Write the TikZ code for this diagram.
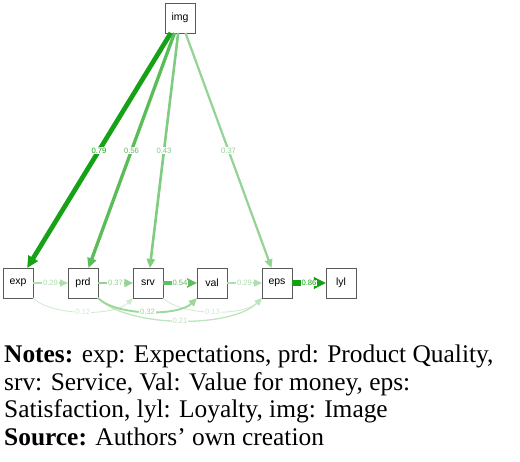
\documentclass[tikz,border=0pt]{standalone}
\usepackage{fontspec}
\setmainfont{Liberation Serif}
\setsansfont{Liberation Sans}
\usetikzlibrary{arrows.meta}
\definecolor{semgreen}{RGB}{20,160,20}
\tikzset{
  edge/.style 2 args={color=semgreen!#1, line width=#2pt,
    -{Triangle[length=6pt 1.2, width=5pt 1.2]}},
  elab/.style={draw=none, minimum size=0pt, fill=white, inner sep=0.6pt,
    font=\sffamily\fontsize{7.7}{7.7}\selectfont}
}
\begin{document}
\begin{tikzpicture}[
		every node/.style={rectangle, draw=black!65, fill=white, minimum size=29.5pt,
		  inner sep=0pt, font=\sffamily\fontsize{10.5}{10.5}\selectfont}
	]
  \useasboundingbox (0pt, 0pt) rectangle (520pt, -462pt);
  \node (img) at (180pt, -18pt) {img};
  \node (exp) at (18pt, -283pt) {exp};
  \node (prd) at (83pt, -283pt) {prd};
  \node (srv) at (148pt, -283pt) {srv};
  \node (val) at (212pt, -283pt) {val};
  \node (eps) at (277pt, -283pt) {eps};
  \node (lyl) at (341pt, -283pt) {lyl};
  % image paths
  \draw[edge={99}{4.7}] (img) -- node[elab]{0.79} (exp);
  \draw[edge={70}{3.3}] (img) -- node[elab]{0.56} (prd);
  \draw[edge={54}{2.6}] (img) -- node[elab]{0.43} (srv);
  \draw[edge={46}{2.2}] (img) -- node[elab]{0.37} (eps);
  % chain
  \draw[edge={34}{1.7}] (exp) -- node[elab]{0.29} (prd);
  \draw[edge={46}{2.2}] (prd) -- node[elab]{0.37} (srv);
  \draw[edge={68}{3.2}] (srv) -- node[elab]{0.54} (val);
  \draw[edge={34}{1.7}] (val) -- node[elab]{0.29} (eps);
  \draw[edge={100}{5.2}] (eps) -- node[elab]{0.86} (lyl);
  % curved paths
  \draw[edge={20}{0.9}] (exp) to[out=-45, in=-135, looseness=0.67] node[elab]{0.12} (srv);
  \draw[edge={20}{0.9}] (srv) to[out=-45, in=-135, looseness=0.67] node[elab]{0.13} (eps);
  \draw[edge={28}{1.3}] (prd) to[out=-45, in=-135, looseness=0.67] node[elab]{0.21} (eps);
  \draw[edge={42}{1.9}] (prd) to[out=-45, in=-135, looseness=0.67] node[elab]{0.32} (val);
  % notes
  \node (notes) [draw=none, fill=none, minimum size=0pt, anchor=north west, align=left,
    font=\rmfamily\fontsize{25.4}{27.4}\selectfont] at (4pt, -345pt)
    {\textbf{Notes:} exp: Expectations, prd: Product Quality,\\
     srv: Service, Val: Value for money, eps:\\
     Satisfaction, lyl: Loyalty, img: Image\\
     \textbf{Source:} Authors’ own creation};
\end{tikzpicture}
\end{document}
